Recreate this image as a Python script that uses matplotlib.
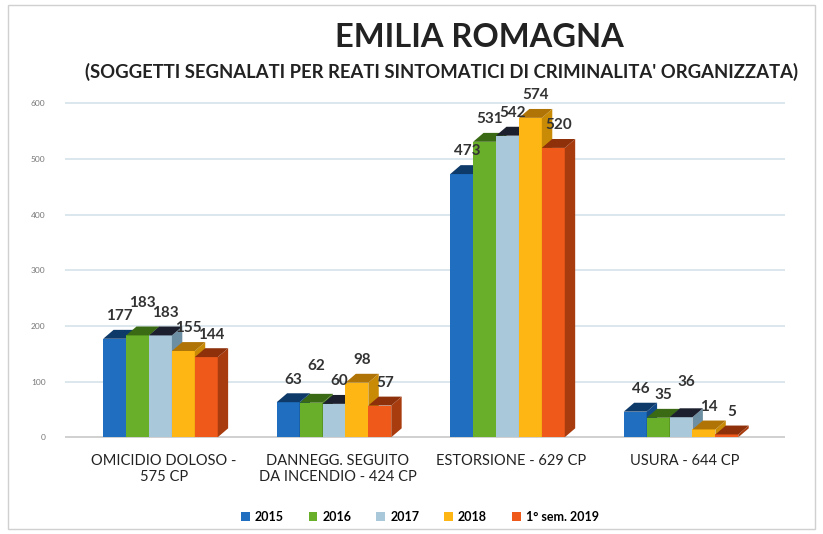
import matplotlib.pyplot as plt
from matplotlib.patches import Polygon, Rectangle
import numpy as np

categories = ["OMICIDIO DOLOSO -\n575 CP", "DANNEGG. SEGUITO\nDA INCENDIO - 424 CP",
              "ESTORSIONE - 629 CP", "USURA - 644 CP"]
series_names = ["2015", "2016", "2017", "2018", "1° sem. 2019"]
v2015 = [177, 63, 473, 46]
v2016 = [183, 62, 531, 35]
v2017 = [183, 60, 542, 36]
v2018 = [155, 98, 574, 14]
v2019 = [144, 57, 520, 5]
series = [v2015, v2016, v2017, v2018, v2019]

front = ["#1F6EBF", "#6AAF2A", "#A9C9DB", "#FDB614", "#EF5A1B"]
side = ["#114A86", "#457A18", "#6D8FA3", "#C98A06", "#A93C0E"]
top = ["#0E3A6A", "#3B6A14", "#1B1F2E", "#B07406", "#8E300A"]

plt.rcParams['font.family'] = ['Lato', 'DejaVu Sans']

fig = plt.figure(figsize=(8.23, 5.34), dpi=100)
ax = fig.add_axes([0.079, 0.176, 0.875, 0.646])

w = 0.132
dx = 0.06
dy = 16
x = np.arange(len(categories))

for yv in range(100, 700, 100):
    ax.axhline(yv, color="#D6E3EA", lw=1.2, zorder=0)
ax.axhline(0, color="#C8C8C8", lw=1.2, zorder=0)

z = 1
for ci in range(len(categories)):
    prev_y = None
    prev_raised = False
    for si, vals in enumerate(series):
        h = vals[ci]
        x0 = x[ci] - 2.5 * w + si * w
        ax.add_patch(Rectangle((x0, 0), w, h, facecolor=front[si], edgecolor="none", zorder=z))
        ax.add_patch(Polygon([(x0 + w, 0), (x0 + w + dx, dy), (x0 + w + dx, h + dy), (x0 + w, h)],
                             closed=True, facecolor=side[si], edgecolor="none", zorder=z))
        ax.add_patch(Polygon([(x0, h), (x0 + dx, h + dy), (x0 + w + dx, h + dy), (x0 + w, h)],
                             closed=True, facecolor=top[si], edgecolor="none", zorder=z))
        ly = h + dy + 12
        raised = False
        if prev_y is not None and not prev_raised and abs(ly - prev_y) < 8:
            ly = prev_y + 24
            raised = True
        ax.text(x0 + w / 2 + dx / 2, ly, str(h), ha="center", va="bottom",
                fontsize=11, fontweight="bold", color="#333333", zorder=50)
        prev_y = ly
        prev_raised = raised
        z += 1

ax.set_xlim(-0.55, 3.6)
ax.set_ylim(-5, 615)
ax.set_yticks(range(0, 700, 100))
ax.set_yticklabels([str(t) for t in range(0, 700, 100)], fontsize=6, color="#777777")
ax.set_xticks(x + 0.02)
ax.set_xticklabels(categories, fontsize=10.5, color="#222222")
ax.tick_params(length=0, axis="both")
ax.tick_params(axis="x", pad=10)
ax.tick_params(axis="y", pad=14)
for s in ax.spines.values():
    s.set_visible(False)

fig.text(0.583, 0.93, "EMILIA ROMAGNA", ha="center", va="center",
         fontsize=23.5, fontweight="bold", color="#222222")
fig.text(0.537, 0.865, "(SOGGETTI SEGNALATI PER REATI SINTOMATICI DI CRIMINALITA' ORGANIZZATA)",
         ha="center", va="center", fontsize=13.3, fontweight="bold", color="#222222")

handles = [Rectangle((0, 0), 1, 1, facecolor=c) for c in front]
fig.legend(handles, series_names, loc="center", bbox_to_anchor=(0.51, 0.032), ncol=5,
           frameon=False, handlelength=0.7, handleheight=0.7,
           columnspacing=2.0, handletextpad=0.4, prop={"weight": "bold", "size": 9})

fig.patches.append(Rectangle((0.01, 0.01), 0.98, 0.98, transform=fig.transFigure,
                             fill=False, edgecolor="#D0D0D0", lw=1))

fig.savefig("out.png", dpi=100)
